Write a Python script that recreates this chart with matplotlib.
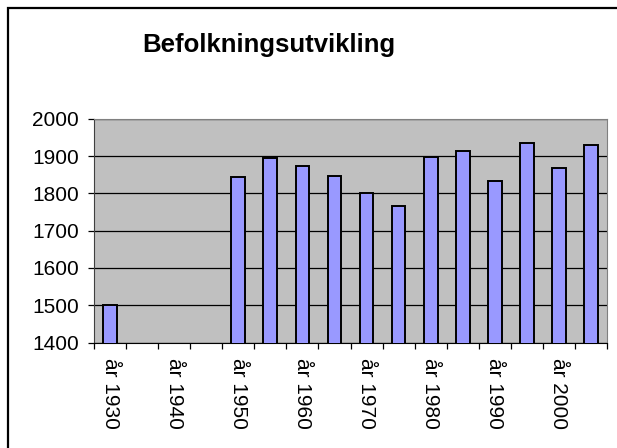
import numpy as np
import matplotlib
matplotlib.use('Agg')
import matplotlib.pyplot as plt
from matplotlib.patches import Rectangle

# data (tom = ingen verdi)
years = [1930, 1935, 1940, 1945, 1950, 1955, 1960, 1965,
         1970, 1975, 1980, 1985, 1990, 1995, 2000, 2005]
folketall = [1500, np.nan, np.nan, np.nan, 1843, 1894, 1874, 1848,
             1801, 1766, 1899, 1915, 1834, 1936, 1869, 1931]
labels = ['år %d' % y for y in years]

plt.rcParams['font.family'] = ['Liberation Sans', 'DejaVu Sans']

fig = plt.figure(figsize=(6.17, 4.48), dpi=100)
ax = fig.add_axes([94/617, 1-342.5/448, (607-94)/617, (342.5-119)/448])

x = np.arange(len(years))
ax.bar(x, folketall, width=0.43, color='#9999FF', edgecolor='black',
       linewidth=1.4, zorder=3)

ax.set_facecolor('#C0C0C0')
ax.set_ylim(1400, 2000)
ax.set_yticks(np.arange(1400, 2001, 100))
ax.yaxis.grid(True, color='black', linewidth=0.9, zorder=1)
ax.set_axisbelow(True)

ax.set_xlim(-0.5, len(years) - 0.5)
ax.set_xticks(x)
ax.set_xticklabels([l if i % 2 == 0 else '' for i, l in enumerate(labels)],
                   rotation=-90, va='top', ha='center')
ax.set_xticks(np.arange(-0.5, len(years)), minor=True)
ax.tick_params(axis='x', which='major', length=0, pad=11, labelsize=15)
ax.tick_params(axis='x', which='minor', length=4, width=0.9, color='black')
ax.tick_params(axis='y', length=4, width=0.9, pad=7, labelsize=15)

for s in ['top', 'right']:
    ax.spines[s].set_color('#808080')
ax.spines['left'].set_color('#404040')
ax.spines['bottom'].set_color('black')

fig.text(0.5 * (94 + 607) / 617 * 0 + 269/617, 1 - 45/448, 'Befolkningsutvikling',
         ha='center', va='center', fontsize=18.5, fontweight='bold')

# ramme rundt diagrammet
fig.patches.append(Rectangle((8/617, -0.1), 1.2, 1.1 - 8/448 + 0.0,
                             transform=fig.transFigure, fill=False,
                             edgecolor='black', linewidth=1.6))

fig.savefig('out.png', dpi=100)
